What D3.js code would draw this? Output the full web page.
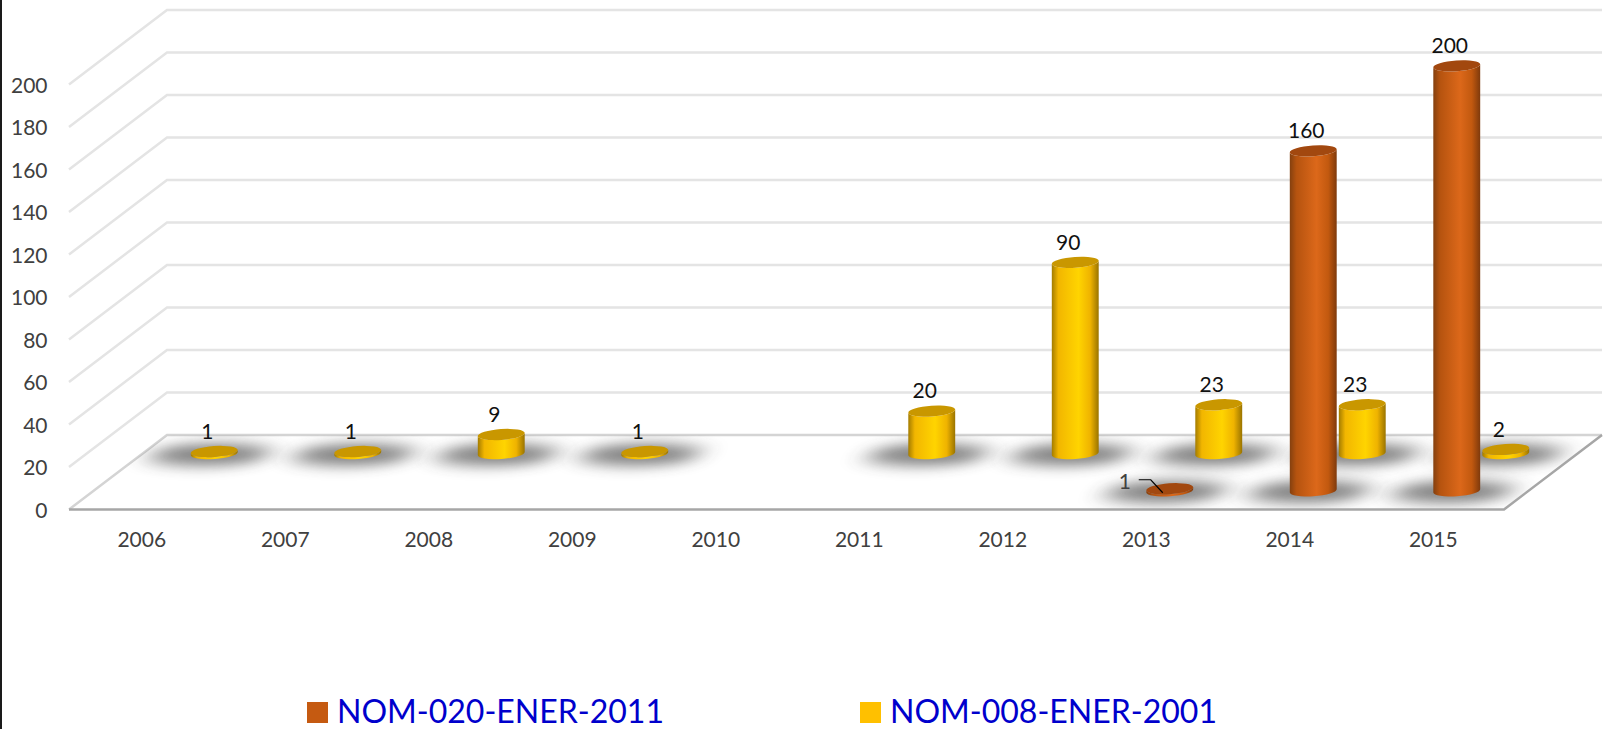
<!DOCTYPE html>
<html>
<head>
<meta charset="utf-8">
<script src="https://d3js.org/d3.v7.min.js"></script>
<style>
    html, body { margin: 0; padding: 0; background: #fff; overflow: hidden; }
    svg { display: block; font-family: Lato, "Open Sans", sans-serif; }
</style>
</head>
<body>
<svg id="chart" width="1618" height="729"></svg>
<script>
// values
const years = ["2006", "2007", "2008", "2009", "2010", "2011", "2012", "2013", "2014", "2015"];
const nom020 = [null, null, null, null, null, null, null, 1, 160, 200];
const nom008 = [1, 1, 9, 1, null, 20, 90, 23, 23, 2];
const yTicks = [0, 20, 40, 60, 80, 100, 120, 140, 160, 180, 200];
const seriesNames = ["NOM-020-ENER-2011", "NOM-008-ENER-2001"];
const seriesValues = [nom020, nom008];

const svg = d3.select("#chart");

// black rule down the left edge of the picture
svg.append("rect").attr("width", 2).attr("height", 729).attr("fill", "#1a1a1a");

// scales for the front plane + the depth of the 3d box
const x = d3.scaleBand().domain(years).range([69, 1504]);
const y = d3.scaleLinear().domain([0, 200]).range([509.5, 84.5]);
const depth = d3.scaleBand().domain([0, 1]).range([0, 1]);
const depthX = 98, depthY = 74.5;

function px(year, row) { return x(year) + x.bandwidth() / 2 + (depth(row) + depth.bandwidth() / 2) * depthX; }
function py(value, row) { return y(value) - (depth(row) + depth.bandwidth() / 2) * depthY; }

const rx = 23.5, ry = 5.4, tilt = -4;
const tiltRad = tilt * Math.PI / 180;

const palette = [
    { top: "#a2480f", stops: ["#84400f", "#b5530f", "#dc681a", "#c2590f", "#7f3a0c"] },
    { top: "#c99700", stops: ["#a47c00", "#f2b600", "#ffd400", "#efb300", "#9a7400"] }
];

const defs = svg.append("defs");
palette.forEach((p, i) => {
    const g = defs.append("linearGradient").attr("id", "side" + i);
    [0, 0.14, 0.57, 0.82, 1].forEach((o, k) => {
        g.append("stop").attr("offset", o).attr("stop-color", p.stops[k]);
    });
});
defs.append("filter").attr("id", "blur")
    .attr("x", "-60%").attr("y", "-200%").attr("width", "220%").attr("height", "500%")
    .append("feGaussianBlur").attr("stdDeviation", "13 7");

const floor = [
    [x.range()[0], y(0)],
    [x.range()[1], y(0)],
    [x.range()[1] + depthX, y(0) - depthY],
    [x.range()[0] + depthX, y(0) - depthY]
];
defs.append("clipPath").attr("id", "floorClip")
    .append("polygon").attr("points", floor.join(" "));

// gridlines run up the left wall and along the back wall
svg.append("g").selectAll("path")
    .data(yTicks.slice(1))
    .enter().append("path")
    .attr("fill", "none")
    .attr("stroke", "#e4e4e4")
    .attr("stroke-width", 2.5)
    .attr("d", d => d3.line()([
        [x.range()[0], y(d)],
        [x.range()[0] + depthX, y(d) - depthY],
        [x.range()[1] + depthX, y(d) - depthY]
    ]));

// floor
svg.append("polygon").attr("points", floor.join(" ")).attr("fill", "#fff");
svg.append("path").attr("fill", "none").attr("stroke", "#d4d4d4").attr("stroke-width", 2.5)
    .attr("d", d3.line()([floor[0], floor[3], floor[2]]));

// flatten the two series, back row first so the front row sits on top
const bars = [];
[1, 0].forEach(row => {
    years.forEach((yr, i) => {
        if (seriesValues[row][i] !== null) bars.push({ year: yr, row: row, value: seriesValues[row][i] });
    });
});

svg.append("g").attr("clip-path", "url(#floorClip)")
    .selectAll("ellipse")
    .data(bars)
    .enter().append("ellipse")
    .attr("rx", 60)
    .attr("ry", 11)
    .attr("transform", d => `translate(${px(d.year, d.row) - 4},${py(0, d.row) + 1}) skewX(-30)`)
    .attr("fill", "#3c3c3c")
    .attr("opacity", 0.66)
    .attr("filter", "url(#blur)");

svg.append("path").attr("fill", "none").attr("stroke", "#a6a6a6").attr("stroke-width", 2.5)
    .attr("d", d3.line()([floor[0], floor[1], floor[2]]));

function sidePath(d) {
    const cx = px(d.year, d.row);
    const ex = rx * Math.cos(tiltRad), ey = rx * Math.sin(tiltRad);
    const t = py(d.value, d.row), b = py(0, d.row);
    return `M${cx - ex},${t - ey} L${cx - ex},${b - ey} A${rx},${ry} ${tilt} 0 0 ${cx + ex},${b + ey} L${cx + ex},${t + ey} A${rx},${ry} ${tilt} 0 1 ${cx - ex},${t - ey} Z`;
}

const cyl = svg.append("g").selectAll("g")
    .data(bars)
    .enter().append("g");

cyl.append("path")
    .attr("d", sidePath)
    .attr("fill", d => `url(#side${d.row})`);

cyl.append("ellipse")
    .attr("rx", rx)
    .attr("ry", ry)
    .attr("transform", d => `translate(${px(d.year, d.row)},${py(d.value, d.row)}) rotate(${tilt})`)
    .attr("fill", d => palette[d.row].top);

// data labels, the tiny 2013 bar has its label pulled out to the left with a leader
const isPulled = d => d.row === 0 && d.value === 1;

svg.append("g").selectAll("text")
    .data(bars)
    .enter().append("text")
    .attr("x", d => px(d.year, d.row) + (isPulled(d) ? -45 : -7))
    .attr("y", d => py(d.value, d.row) + (isPulled(d) ? -7 : -20))
    .attr("dy", "0.35em")
    .attr("text-anchor", "middle")
    .attr("font-size", 21)
    .attr("fill", d => isPulled(d) ? "#404040" : "#111")
    .text(d => d.value);

svg.append("g").selectAll("path")
    .data(bars.filter(isPulled))
    .enter().append("path")
    .attr("fill", "none")
    .attr("stroke", "#000")
    .attr("stroke-width", 1.2)
    .attr("d", d => {
        const cx = px(d.year, d.row), cy = py(d.value, d.row);
        return d3.line()([[cx - 31, cy - 9], [cx - 19, cy - 9], [cx - 7, cy + 4]]);
    });

// axes, only the labels are visible
const yAxis = svg.append("g")
    .attr("transform", `translate(${x.range()[0] - 21.5},1)`)
    .call(d3.axisLeft(y).tickValues(yTicks).tickSize(0).tickPadding(0));
const xAxis = svg.append("g")
    .attr("transform", `translate(1,${y(0)})`)
    .call(d3.axisBottom(x).tickSize(0).tickPadding(23));

[yAxis, xAxis].forEach(a => {
    a.select(".domain").remove();
    a.selectAll("text").attr("font-size", 21).attr("font-family", "Lato").attr("fill", "#404040");
});

// legend
const legendX = [307, 860];
const legend = svg.append("g").selectAll("g")
    .data(seriesNames)
    .enter().append("g")
    .attr("transform", (d, i) => `translate(${legendX[i]},702)`);

legend.append("rect")
    .attr("width", 21)
    .attr("height", 21)
    .attr("fill", (d, i) => i === 0 ? "#c55a11" : "#ffc000");

legend.append("text")
    .attr("x", 30)
    .attr("y", 21)
    .attr("font-size", 33)
    .attr("fill", "#0000cc")
    .attr("textLength", 327)
    .attr("lengthAdjust", "spacingAndGlyphs")
    .text(d => d);
</script>
</body>
</html>
